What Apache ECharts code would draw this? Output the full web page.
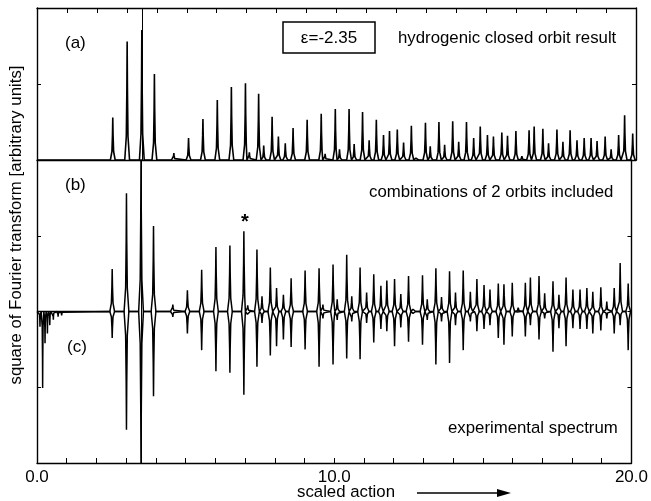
<!DOCTYPE html>
<html>
<head>
<meta charset="utf-8">
<script src="https://cdn.jsdelivr.net/npm/echarts@6/dist/echarts.min.js"></script>
<style>html,body{margin:0;padding:0;background:#fff;}#c{width:651px;height:501px;}</style>
</head>
<body>
<div id="c"></div>
<script>
// Peak positions (scaled action) shared by all three spectra
const peakPos = [2.53,3.01,3.50,3.92,4.57,5.06,5.54,6.02,6.49,6.96,7.09,7.40,7.57,7.85,8.06,8.29,8.55,9.02,9.49,9.62,9.96,10.10,10.42,10.59,10.87,11.09,11.33,11.57,11.77,12.03,12.24,12.50,12.66,12.97,13.13,13.42,13.61,13.88,14.08,14.34,14.58,14.80,15.04,15.24,15.52,15.71,15.99,16.19,16.43,16.60,16.89,17.08,17.36,17.56,17.80,18.03,18.27,18.50,18.70,18.97,19.17,19.42,19.62,19.89];
// (a) hydrogenic closed orbit result
const heightA = [0.56,1.56,1.71,1.13,0.09,0.29,0.54,0.79,0.96,1.01,0.10,0.87,0.19,0.57,0.31,0.22,0.42,0.53,0.61,0.08,0.67,0.14,0.67,0.21,0.63,0.26,0.53,0.33,0.38,0.40,0.23,0.45,0.04,0.49,0.18,0.50,0.20,0.51,0.24,0.50,0.29,0.44,0.33,0.31,0.36,0.32,0.38,0.05,0.39,0.44,0.41,0.22,0.40,0.24,0.39,0.26,0.29,0.29,0.25,0.31,0.14,0.33,0.59,0.35];
// (b) combinations of 2 orbits included (upward)
const heightB = [0.56,1.56,2.10,1.13,0.09,0.28,0.55,0.85,0.87,1.06,0.08,0.82,0.20,0.58,0.31,0.22,0.44,0.54,0.57,0.09,0.62,0.16,0.75,0.20,0.58,0.25,0.49,0.34,0.41,0.43,0.23,0.47,0.05,0.48,0.16,0.57,0.19,0.53,0.25,0.54,0.26,0.43,0.35,0.29,0.37,0.36,0.38,0.05,0.38,0.45,0.47,0.24,0.40,0.22,0.45,0.29,0.29,0.31,0.26,0.32,0.13,0.31,0.64,0.37];
// (c) experimental spectrum (drawn downward)
const depthC = [0.35,1.56,2.10,1.12,0.07,0.29,0.51,0.79,0.81,1.10,0.06,0.73,0.15,0.58,0.46,0.37,0.47,0.50,0.73,0.09,0.70,0.11,0.62,0.13,0.63,0.15,0.41,0.23,0.26,0.46,0.21,0.40,0.04,0.44,0.11,0.70,0.13,0.68,0.18,0.51,0.13,0.26,0.23,0.18,0.35,0.44,0.33,0.03,0.33,0.18,0.37,0.09,0.53,0.22,0.46,0.22,0.23,0.23,0.29,0.25,0.09,0.29,0.18,0.51];
// low-action noise in experimental spectrum
const noisePosC = [0.10,0.19,0.27,0.35,0.43,0.55,0.71,0.83];
const noiseDepthC = [0.20,1.01,0.42,0.29,0.18,0.11,0.07,0.05];
const markedLine = 3.50;
const xTicks = [0, 10, 20];

function spikes(pos, h, sign, hw, extra) {
  let pts = [[0,0],[20,0]];
  const add = (p, v, w) => {
    pts.push([p - w, 0], [p - w*0.35, sign*v*0.2], [p - w*0.12, sign*v*0.6], [p, sign*v],
             [p + w*0.12, sign*v*0.6], [p + w*0.35, sign*v*0.2], [p + w, 0]);
  };
  pos.forEach((p,i) => add(p, h[i], hw));
  if (extra) extra.pos.forEach((p,i) => add(p, extra.h[i], extra.hw));
  pts.sort((a,b) => a[0]-b[0]);
  return pts;
}

const chart = echarts.init(document.getElementById('c'), null, {renderer:'canvas'});
const FONT = 'Liberation Sans, Arial, Helvetica, sans-serif';
const axLine = {show:true, onZero:false, lineStyle:{color:'#000', width:1.4}};
const xBase = {type:'value', min:0, max:20, interval:1, splitLine:{show:false}, axisLine:axLine};
const yBase = {type:'value', interval:1, splitLine:{show:false}, axisLine:axLine, axisLabel:{show:false},
  axisTick:{show:true, inside:true, length:4, lineStyle:{color:'#000', width:1}}};
const mk = {silent:true, symbol:'none', label:{show:false}, lineStyle:{color:'#000', width:1, type:'solid'}, data:[{xAxis:markedLine}]};

chart.setOption({
  animation:false,
  grid:[
    {left:37, right:15, top:8, height:152},
    {left:37, right:15, top:160, height:303}
  ],
  xAxis:[
    Object.assign({}, xBase, {gridIndex:0, position:'bottom', axisTick:{show:false}, axisLabel:{show:false}}),
    Object.assign({}, xBase, {gridIndex:0, position:'top', axisTick:{show:true, inside:true, length:5, lineStyle:{color:'#000', width:1}}, axisLabel:{show:false}}),
    Object.assign({}, xBase, {gridIndex:1, position:'bottom',
      axisTick:{show:true, inside:true, length:5, lineStyle:{color:'#000', width:1}},
      axisLabel:{show:true, interval:0, margin:6, color:'#000', fontFamily:FONT, fontSize:17,
        formatter: v => xTicks.indexOf(v) >= 0 ? v.toFixed(1) : ''}})
  ],
  yAxis:[
    Object.assign({}, yBase, {gridIndex:0, position:'left', min:0, max:2}),
    Object.assign({}, yBase, {gridIndex:0, position:'right', min:0, max:2}),
    Object.assign({}, yBase, {gridIndex:1, position:'left', min:-2, max:2}),
    Object.assign({}, yBase, {gridIndex:1, position:'right', min:-2, max:2})
  ],
  series:[
    {type:'line', xAxisIndex:0, yAxisIndex:0, data:spikes(peakPos, heightA, 1, 0.08), showSymbol:false, clip:true,
      lineStyle:{color:'#000', width:1.6}, markLine:mk},
    {type:'line', xAxisIndex:2, yAxisIndex:2, data:spikes(peakPos, heightB, 1, 0.08), showSymbol:false, clip:true,
      lineStyle:{color:'#000', width:1.5}, markLine:mk},
    {type:'line', xAxisIndex:2, yAxisIndex:2, data:spikes(peakPos, depthC, -1, 0.08, {pos:noisePosC, h:noiseDepthC, hw:0.04}), showSymbol:false, clip:true,
      lineStyle:{color:'#000', width:1.5}}
  ],
  graphic:[
    {type:'text', x:65, y:43, style:{text:'(a)', font:'17px '+FONT, fill:'#000', verticalAlign:'middle'}},
    {type:'text', x:65, y:185, style:{text:'(b)', font:'17px '+FONT, fill:'#000', verticalAlign:'middle'}},
    {type:'text', x:67, y:347, style:{text:'(c)', font:'17px '+FONT, fill:'#000', verticalAlign:'middle'}},
    {type:'text', x:245, y:222, style:{text:'*', font:'bold 20px '+FONT, fill:'#000', align:'center', verticalAlign:'middle'}},
    {type:'rect', shape:{x:283, y:22, width:92, height:31}, style:{fill:'none', stroke:'#000', lineWidth:1.5}},
    {type:'text', x:329, y:38, style:{text:'ε=-2.35', font:'17px '+FONT, fill:'#000', align:'center', verticalAlign:'middle'}},
    {type:'text', x:398, y:38, style:{text:'hydrogenic closed orbit result', font:'16.8px '+FONT, fill:'#000', verticalAlign:'middle'}},
    {type:'text', x:369, y:192, style:{text:'combinations of 2 orbits included', font:'16.8px '+FONT, fill:'#000', verticalAlign:'middle'}},
    {type:'text', x:448, y:428, style:{text:'experimental spectrum', font:'16.8px '+FONT, fill:'#000', verticalAlign:'middle'}},
    {type:'text', x:16, y:225, rotation:Math.PI/2, style:{text:'square of Fourier transform [arbitrary units]', font:'16.8px '+FONT, fill:'#000', align:'center', verticalAlign:'middle'}},
    {type:'text', x:346, y:492, style:{text:'scaled action', font:'16.8px '+FONT, fill:'#000', align:'center', verticalAlign:'middle'}},
    {type:'line', shape:{x1:417, y1:493, x2:500, y2:493}, style:{stroke:'#000', lineWidth:1.5}},
    {type:'polygon', shape:{points:[[497,489],[511,493],[497,497]]}, style:{fill:'#000'}}
  ]
});
</script>
</body>
</html>
